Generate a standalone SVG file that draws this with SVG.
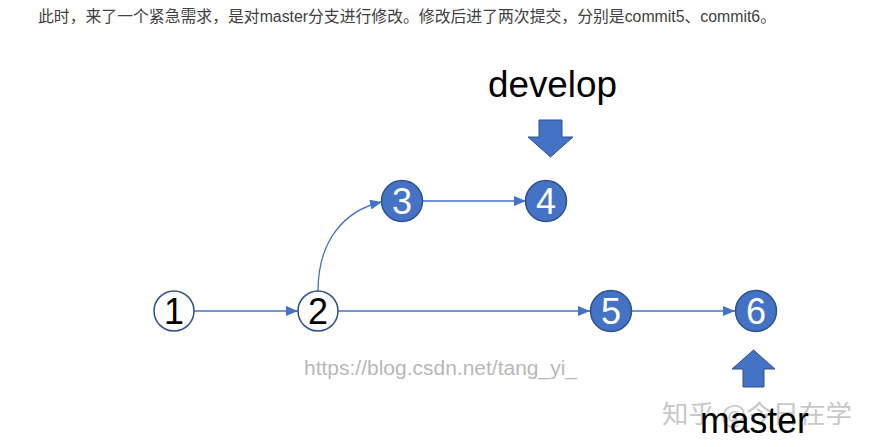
<svg xmlns="http://www.w3.org/2000/svg" width="872" height="447" viewBox="0 0 872 447">
<style>
.node-w{fill:#ffffff;stroke:#2F528F;stroke-width:1.5}
.node-b{fill:#4472C4;stroke:#2F528F;stroke-width:1.5}
.num{font-family:"Liberation Sans",Arial,sans-serif;font-size:36px;text-anchor:middle}
.num-w{fill:#ffffff}
.num-k{fill:#000000}
.edge{fill:none;stroke:#4472C4;stroke-width:1.3}
.label{font-family:"Liberation Sans",Arial,sans-serif;fill:#000000}
.bigarrow{fill:#4472C4;stroke:#2F528F;stroke-width:1}
</style>
<defs>
<marker id="ah" viewBox="0 0 12 10" refX="12" refY="5" markerWidth="12" markerHeight="10" markerUnits="userSpaceOnUse" orient="auto">
<path d="M0,0 L12,5 L0,10 Z" fill="#4472C4"/>
</marker>
</defs>
<rect width="872" height="447" fill="#ffffff"/>
<text x="38" y="22" font-family="'Liberation Sans','Noto Sans CJK SC',sans-serif" font-size="16" fill="#404040" textLength="738" lengthAdjust="spacingAndGlyphs">此时，来了一个紧急需求，是对master分支进行修改。修改后进了两次提交，分别是commit5、commit6。</text>
<text x="304" y="375" font-family="'Liberation Sans',Arial,sans-serif" font-size="21" fill="#b8b8b8" textLength="273" lengthAdjust="spacingAndGlyphs">https://blog.csdn.net/tang_yi_</text>
<text x="662" y="423" font-family="'Noto Sans CJK SC',sans-serif" font-size="25" fill="#c8c8c8" textLength="190" lengthAdjust="spacingAndGlyphs">知乎 @今日在学</text>
<g id="connectors">
<path class="edge" d="M194,311 L298,311" marker-end="url(#ah)"/>
<path class="edge" d="M318,291 C318,240 345,210 382,202" marker-end="url(#ah)"/>
<path class="edge" d="M423,201 L526,201" marker-end="url(#ah)"/>
<path class="edge" d="M338,311 L590,311" marker-end="url(#ah)"/>
<path class="edge" d="M632,311 L735,311" marker-end="url(#ah)"/>
</g>
<g id="node1"><circle class="node-w" cx="174" cy="311" r="20"/><text class="num num-k" x="174" y="324">1</text></g>
<g id="node2"><circle class="node-w" cx="318" cy="311" r="20"/><text class="num num-k" x="318" y="324">2</text></g>
<g id="node3"><circle class="node-b" cx="402" cy="201" r="20.5"/><text class="num num-w" x="402" y="214">3</text></g>
<g id="node4"><circle class="node-b" cx="546" cy="201" r="20.5"/><text class="num num-w" x="546" y="214">4</text></g>
<g id="node5"><circle class="node-b" cx="611" cy="311" r="20.5"/><text class="num num-w" x="611" y="324">5</text></g>
<g id="node6"><circle class="node-b" cx="756" cy="311" r="20.5"/><text class="num num-w" x="756" y="324">6</text></g>
<g id="develop">
<text class="label" x="488" y="97" font-size="37" textLength="129" lengthAdjust="spacingAndGlyphs">develop</text>
<path class="bigarrow" d="M539,120 L562,120 L562,137 L573,137 L550.5,157 L528,137 L539,137 Z"/>
</g>
<g id="master">
<path class="bigarrow" d="M743,387 L764,387 L764,369 L775,369 L753.5,350 L732,369 L743,369 Z"/>
<text class="label" x="700" y="433" font-size="36" textLength="109" lengthAdjust="spacingAndGlyphs">master</text>
</g>
</svg>
